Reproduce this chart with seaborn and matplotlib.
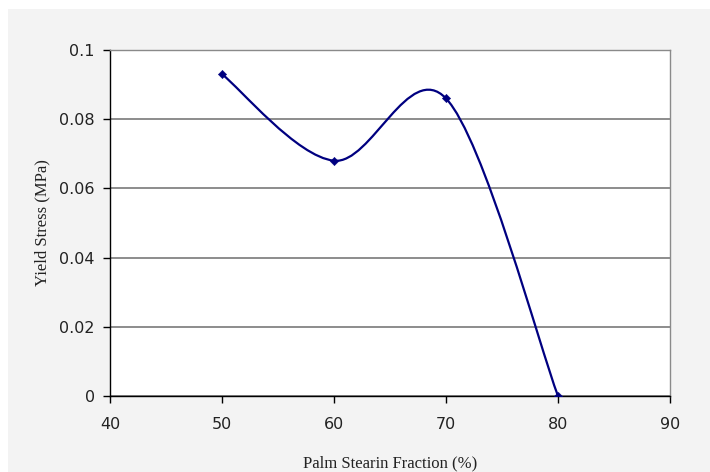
import numpy as np
import pandas as pd
import matplotlib
matplotlib.use("Agg")
import matplotlib.pyplot as plt
from matplotlib.path import Path
from matplotlib.patches import PathPatch, Rectangle
import seaborn as sns

fraction = [50, 60, 70, 80]
yield_stress = [0.093, 0.068, 0.086, 0.0]
x_ticks = [40, 50, 60, 70, 80, 90]
y_ticks = [0, 0.02, 0.04, 0.06, 0.08, 0.1]
y_tick_labels = ["0", "0.02", "0.04", "0.06", "0.08", "0.1"]

sns.set_style("white")
df = pd.DataFrame({"x": fraction, "y": yield_stress})

fig = plt.figure(figsize=(7.10, 4.72), dpi=100)
fig.patch.set_facecolor("white")
fig.patches.append(Rectangle((8 / 710, 0), 1, 1 - 9 / 472, transform=fig.transFigure,
                             facecolor="#f3f3f3", edgecolor="none", zorder=-10))
ax = fig.add_axes([110 / 710, 1 - 396 / 472, 560 / 710, 346 / 472])
ax.set_facecolor("white")

# Excel-style smoothed line (Bezier through data points)
pts = np.column_stack([fraction, yield_stress]).astype(float)
n = len(pts)
verts = [tuple(pts[0])]
codes = [Path.MOVETO]
for i in range(n - 1):
    p_prev = pts[i - 1] if i > 0 else pts[i]
    p_next2 = pts[i + 2] if i + 2 < n else pts[i + 1]
    c1 = pts[i] + (pts[i + 1] - p_prev) / 6
    c2 = pts[i + 1] - (p_next2 - pts[i]) / 6
    verts += [tuple(c1), tuple(c2), tuple(pts[i + 1])]
    codes += [Path.CURVE4] * 3
ax.add_patch(PathPatch(Path(verts, codes), facecolor="none", edgecolor="#000080",
                       lw=1.6, zorder=3))
sns.scatterplot(data=df, x="x", y="y", ax=ax, marker="D", s=18, color="#000080",
                edgecolor="#000080", zorder=4, legend=False)

ax.set_xlim(40, 90)
ax.set_ylim(0, 0.1)
ax.set_xticks(x_ticks)
ax.set_yticks(y_ticks)
ax.set_yticklabels(y_tick_labels)
ax.yaxis.grid(True, color="#6e6e6e", lw=1.1)
ax.set_axisbelow(True)
for s in ["top", "right"]:
    ax.spines[s].set_color("#8a8a8a")
    ax.spines[s].set_linewidth(1.0)
for s in ["left", "bottom"]:
    ax.spines[s].set_color("black")
    ax.spines[s].set_linewidth(1.0)
ax.tick_params(axis="both", direction="out", length=5, width=1, color="black",
               labelsize=11.5, labelcolor="#222222", pad=6, bottom=True, left=True)
ax.tick_params(axis="x", pad=10)
for lab in ax.get_xticklabels() + ax.get_yticklabels():
    lab.set_fontfamily("DejaVu Sans")
ax.set_xlabel("Palm Stearin Fraction (%)", fontsize=12, family="Liberation Serif",
              color="#222222", labelpad=17)
ax.set_ylabel("Yield Stress (MPa)", fontsize=12, family="Liberation Serif",
              color="#222222", labelpad=6)

fig.savefig("out.png", dpi=100, facecolor=fig.get_facecolor())
